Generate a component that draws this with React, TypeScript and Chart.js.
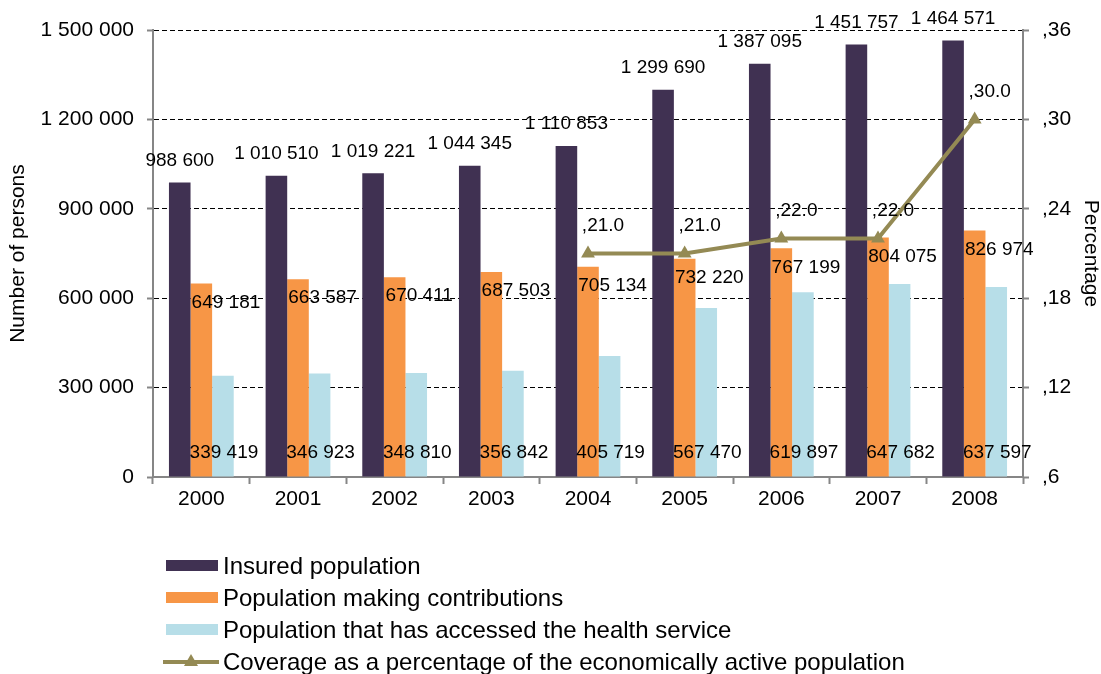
import React, { useEffect, useRef } from 'react';
import { Chart, registerables } from 'chart.js';

Chart.register(...registerables);

const FONT = '"Liberation Sans", Arial, sans-serif';

const years = ['2000', '2001', '2002', '2003', '2004', '2005', '2006', '2007', '2008'];
const insured = [988600, 1010510, 1019221, 1044345, 1110853, 1299690, 1387095, 1451757, 1464571];
const contributing = [649181, 663587, 670411, 687503, 705134, 732220, 767199, 804075, 826974];
const accessed = [339419, 346923, 348810, 356842, 405719, 567470, 619897, 647682, 637597];
const coverage = [null, null, null, null, 0.21, 0.21, 0.22, 0.22, 0.30];
const rightTickLabels = [',6', ',12', ',18', ',24', ',30', ',36'];
const seriesNames = [
  'Insured population',
  'Population making contributions',
  'Population that has accessed the health service',
  'Coverage as a percentage of the economically active population',
];
const seriesColors = ['#403152', '#F79646', '#B7DEE8', '#948A54'];

const fmt = (n: number) => String(n).replace(/\B(?=(\d{3})+(?!\d))/g, ' ');
const fmtPct = (v: number) => ',' + (v * 100).toFixed(1);

export default function App() {
  const ref = useRef<HTMLCanvasElement>(null);

  useEffect(() => {
    document.body.style.margin = '0';
    const canvas = ref.current!;

    const labelPlugin = {
      id: 'customLabels',
      afterDatasetsDraw(chart: any) {
        const c = chart.ctx;
        const y0 = chart.scales.y.getPixelForValue(0);
        c.save();
        c.fillStyle = '#000';
        c.font = `19px ${FONT}`;
        c.textAlign = 'center';
        c.textBaseline = 'middle';
        chart.getDatasetMeta(0).data.forEach((el: any, i: number) => {
          c.fillText(fmt(insured[i]), el.x, Math.max(el.y - 22, 15));
        });
        chart.getDatasetMeta(1).data.forEach((el: any, i: number) => {
          c.fillText(fmt(contributing[i]), el.x + el.width + 3, el.y + 19);
        });
        chart.getDatasetMeta(2).data.forEach((el: any, i: number) => {
          c.fillText(fmt(accessed[i]), el.x + 1, y0 - 24);
        });
        chart.getDatasetMeta(3).data.forEach((el: any, i: number) => {
          const v = coverage[i];
          if (v == null) return;
          c.fillText(fmtPct(v), el.x + 15, el.y - 28);
        });
        c.restore();
      },
      afterDraw(chart: any) {
        const c = chart.ctx;
        const top = chart.chartArea.bottom + 89;
        const gap = 32;
        c.save();
        c.font = `24px ${FONT}`;
        c.textAlign = 'left';
        c.textBaseline = 'middle';
        seriesNames.forEach((name, i) => {
          const y = top + i * gap;
          if (i < 3) {
            c.fillStyle = seriesColors[i];
            c.fillRect(166, y - 6, 52, 11);
          } else {
            c.strokeStyle = seriesColors[3];
            c.lineWidth = 4;
            c.beginPath();
            c.moveTo(163, y);
            c.lineTo(219, y);
            c.stroke();
            c.fillStyle = seriesColors[3];
            c.beginPath();
            c.moveTo(191, y - 8);
            c.lineTo(198, y + 4);
            c.lineTo(184, y + 4);
            c.closePath();
            c.fill();
          }
          c.fillStyle = '#000';
          c.fillText(name, 223, y + 1);
        });
        c.restore();
      },
    };

    const chart = new Chart(canvas, {
      type: 'bar',
      data: {
        labels: years,
        datasets: [
          {
            label: seriesNames[0],
            data: insured,
            backgroundColor: seriesColors[0],
            categoryPercentage: 0.67,
            barPercentage: 1,
            yAxisID: 'y',
            order: 2,
          },
          {
            label: seriesNames[1],
            data: contributing,
            backgroundColor: seriesColors[1],
            categoryPercentage: 0.67,
            barPercentage: 1,
            yAxisID: 'y',
            order: 2,
          },
          {
            label: seriesNames[2],
            data: accessed,
            backgroundColor: seriesColors[2],
            categoryPercentage: 0.67,
            barPercentage: 1,
            yAxisID: 'y',
            order: 2,
          },
          {
            type: 'line',
            label: seriesNames[3],
            data: coverage as any,
            borderColor: seriesColors[3],
            backgroundColor: seriesColors[3],
            borderWidth: 4,
            pointStyle: 'triangle',
            pointRadius: 8,
            pointBorderWidth: 0,
            pointBackgroundColor: seriesColors[3],
            yAxisID: 'y2',
            order: 1,
          } as any,
        ],
      },
      options: {
        responsive: false,
        animation: false,
        maintainAspectRatio: false,
        layout: { padding: { top: 30, left: 0, right: 0, bottom: 0 } },
        plugins: {
          legend: { display: false },
          tooltip: { enabled: false },
        },
        scales: {
          x: {
            offset: true,
            grid: {
              display: true,
              drawOnChartArea: false,
              drawTicks: true,
              tickLength: 7,
              tickColor: '#868686',
              tickWidth: 2,
              offset: true,
            },
            border: { display: true, color: '#868686', width: 2 },
            ticks: { color: '#000', font: { family: FONT, size: 21 }, padding: 3 },
            afterFit: (s: any) => {
              s.height = 674 - 477;
            },
          },
          y: {
            position: 'left',
            min: 0,
            max: 1500000,
            ticks: {
              stepSize: 300000,
              color: '#000',
              font: { family: FONT, size: 21 },
              padding: 13,
              callback: (v: any) => fmt(Number(v)),
            },
            grid: {
              color: (ctx: any) => (ctx.tick && ctx.tick.value === 0 ? 'rgba(0,0,0,0)' : '#000'),
              lineWidth: 1,
              tickLength: 6,
              tickColor: '#868686',
              tickWidth: 2,
              tickBorderDash: [],
            },
            border: { display: true, color: '#868686', width: 2, dash: [5, 3] },
            title: {
              display: true,
              text: 'Number of persons',
              color: '#000',
              font: { family: FONT, size: 21, lineHeight: 1 },
              padding: { top: 8, bottom: 0 },
            },
            afterFit: (s: any) => {
              s.width = 153;
            },
          },
          y2: {
            position: 'right',
            min: 0.06,
            max: 0.36,
            ticks: {
              stepSize: 0.06,
              color: '#000',
              font: { family: FONT, size: 21 },
              padding: 13,
              callback: (_v: any, i: number) => rightTickLabels[i],
            },
            grid: {
              drawOnChartArea: false,
              tickLength: 6,
              tickColor: '#868686',
              tickWidth: 2,
            },
            border: { display: true, color: '#868686', width: 2 },
            title: {
              display: true,
              text: 'Percentage',
              color: '#000',
              font: { family: FONT, size: 21, lineHeight: 1 },
              padding: { top: 0, bottom: 0 },
            },
            afterFit: (s: any) => {
              s.width = 1101 - 1023;
            },
          },
        },
      } as any,
      plugins: [labelPlugin],
    });

    return () => chart.destroy();
  }, []);

  return <canvas ref={ref} width={1101} height={674} style={{ display: 'block' }} />;
}
